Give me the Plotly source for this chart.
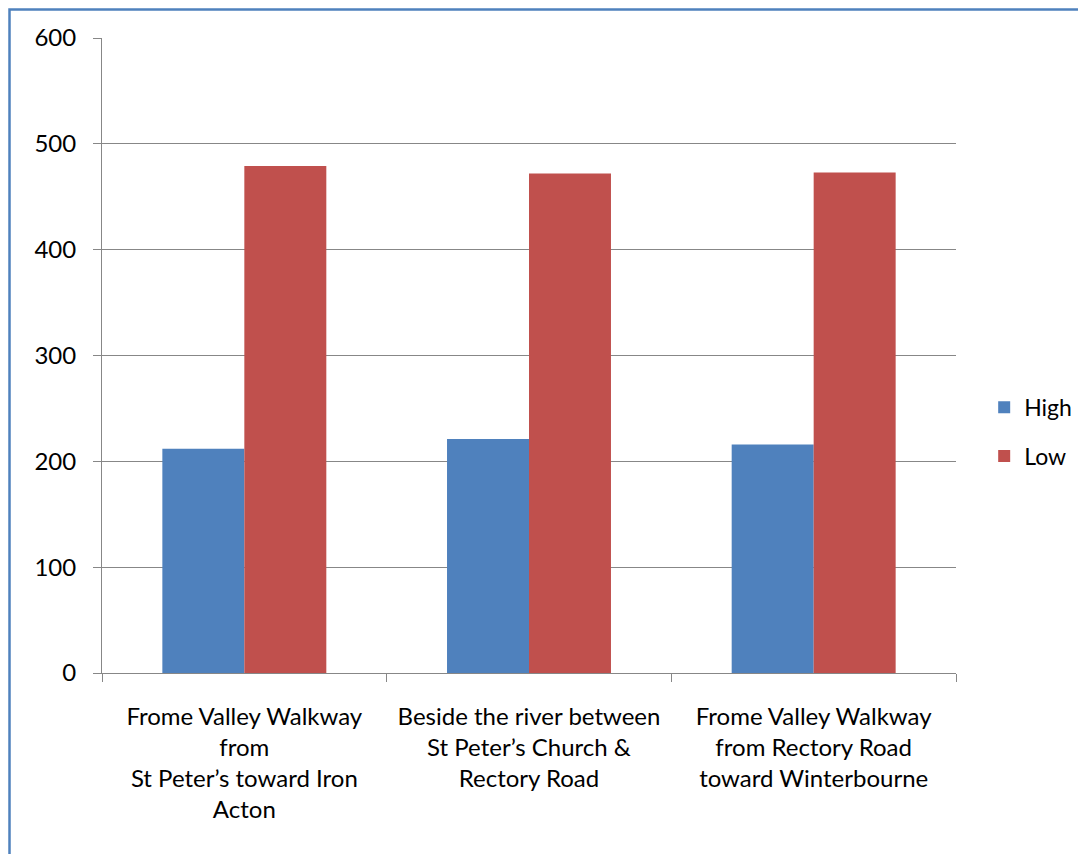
import plotly.graph_objects as go

categories = [
    "Frome Valley Walkway<br>from<br>St Peter’s toward Iron<br>Acton",
    "Beside the river between<br>St Peter’s Church &<br>Rectory Road",
    "Frome Valley Walkway<br>from Rectory Road<br>toward Winterbourne",
]
high_values = [212, 221, 216]
low_values = [479, 472, 473]
y_ticks = [0, 100, 200, 300, 400, 500, 600]

FONT = "Lato, 'Open Sans', sans-serif"
GRID = "#878787"

fig = go.Figure()
fig.add_trace(go.Bar(name="High", x=categories, y=high_values,
                     marker=dict(color="#4f81bd", line=dict(width=0)),
                     legendgroup="h"))
fig.add_trace(go.Bar(name="Low", x=categories, y=low_values,
                     marker=dict(color="#c0504d", line=dict(width=0)),
                     legendgroup="l"))

fig.update_layout(
    width=1086, height=854,
    margin=dict(l=94, r=138, t=30, b=189),
    paper_bgcolor="white", plot_bgcolor="white",
    barmode="group", bargap=0.424, bargroupgap=0,
    font=dict(family=FONT, size=24, color="#000000"),
    legend=dict(x=1.033, y=0.38, xanchor="left", yanchor="middle",
                font=dict(size=23), tracegroupgap=16,
                traceorder="grouped", itemwidth=30),
    showlegend=True,
)
fig.update_xaxes(
    type="category", showline=True, linecolor=GRID, linewidth=1,
    ticks="outside", ticklen=8, tickcolor=GRID, tickson="boundaries",
    showgrid=False, ticklabelstandoff=22, mirror=False,
    tickfont=dict(size=24),
)
fig.update_yaxes(
    range=[0, 600], tickvals=y_ticks, showline=True, linecolor=GRID,
    linewidth=1, ticks="outside", ticklen=8, tickcolor=GRID,
    showgrid=True, gridcolor=GRID, gridwidth=1, zeroline=False,
    ticklabelstandoff=12, tickfont=dict(size=24),
)
fig.add_shape(type="rect", xref="paper", yref="paper",
              x0=(1.5 - 94) / 854, x1=1.3, y0=-0.5, y1=1 + (30 - 1.5) / 635,
              line=dict(color="#4f81bd", width=2.5), fillcolor="rgba(0,0,0,0)",
              layer="above")

fig.write_html("out.html")
